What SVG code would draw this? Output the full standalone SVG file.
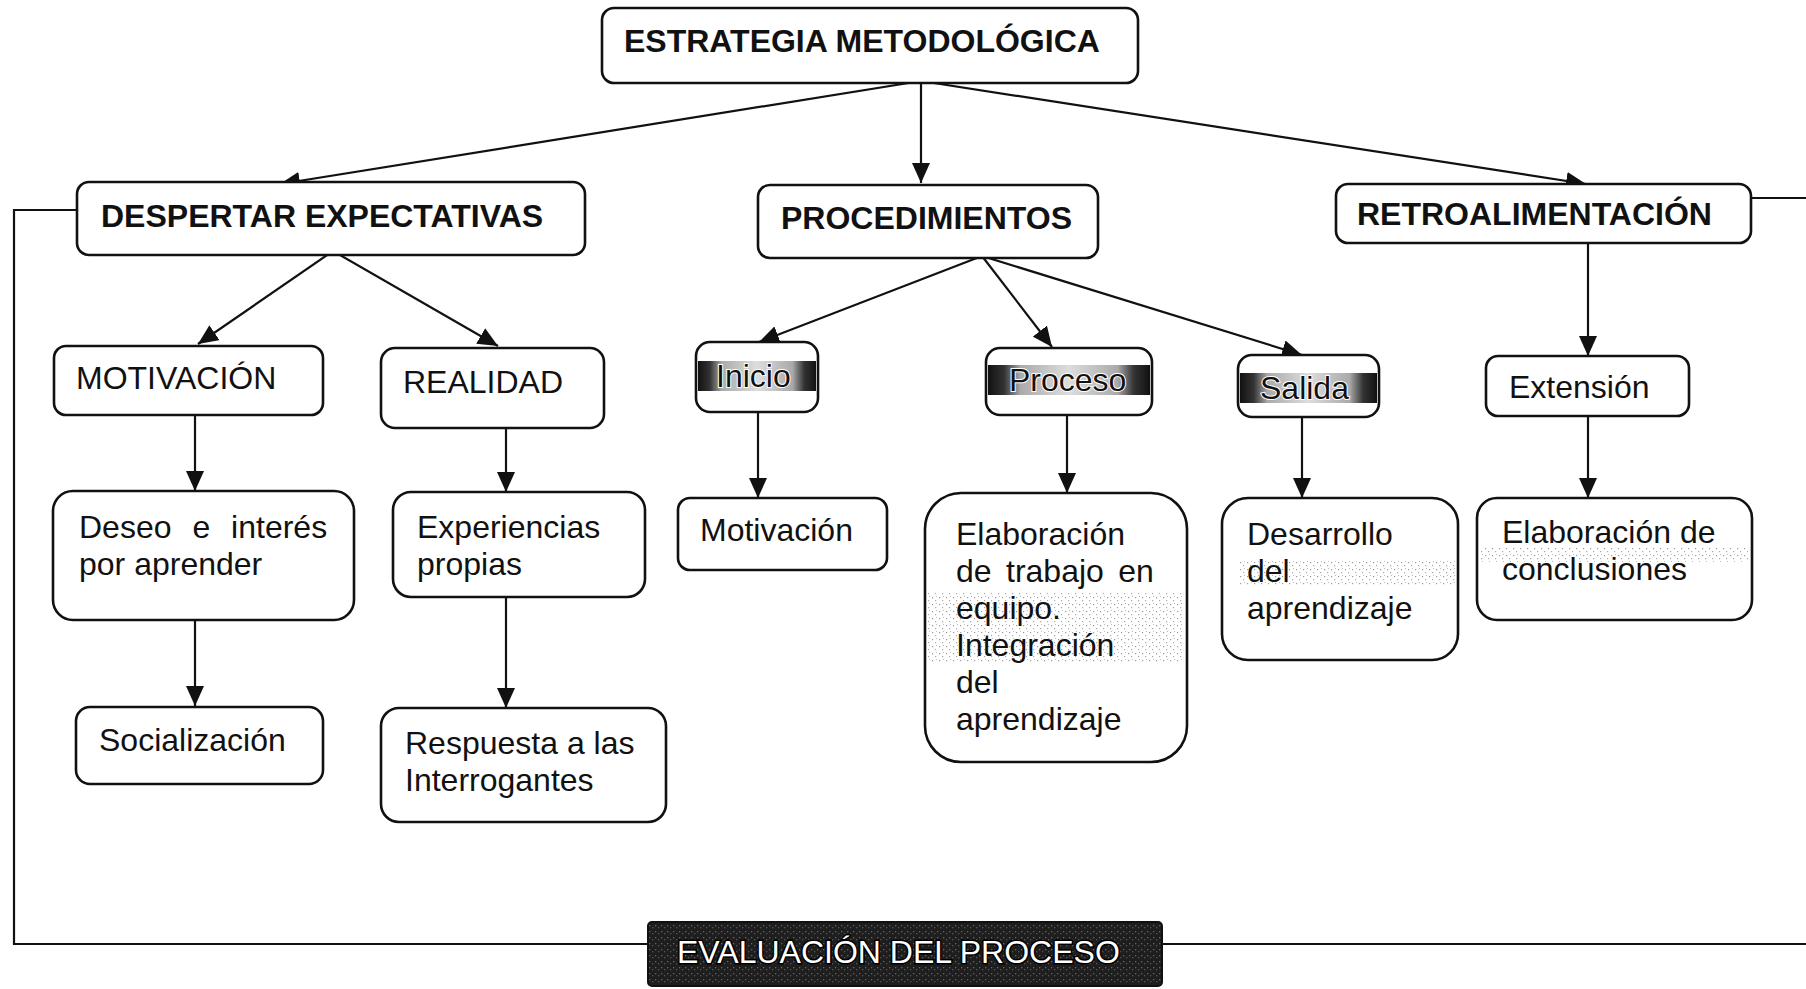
<svg xmlns="http://www.w3.org/2000/svg" width="1806" height="989" viewBox="0 0 1806 989">
<style>
.box{fill:#fff;stroke:#111;stroke-width:2.6}
.hb{font-family:"Liberation Sans",Arial,sans-serif;font-weight:bold;font-size:32px;fill:#111}
.t{font-family:"Liberation Sans",Arial,sans-serif;font-size:32px;fill:#111}
.hl{font-family:"Liberation Sans",Arial,sans-serif;font-size:32px;fill:#111;stroke:#fff;stroke-width:2;paint-order:stroke}
.ev{font-family:"Liberation Sans",Arial,sans-serif;font-size:32px;fill:#fff;stroke:#000;stroke-width:3;paint-order:stroke}
.c{fill:none;stroke:#111;stroke-width:2.2}
.noise{fill:url(#dots)}
</style>
<defs>
<marker id="ah" markerUnits="userSpaceOnUse" markerWidth="22" markerHeight="18" refX="20" refY="9" orient="auto">
<path d="M0,0 L20,9 L0,18 Z" fill="#111"/>
</marker>
<linearGradient id="dark" x1="0" y1="0" x2="1" y2="0">
<stop offset="0" stop-color="#111"/>
<stop offset="0.1" stop-color="#333"/>
<stop offset="0.2" stop-color="#aaa"/>
<stop offset="0.5" stop-color="#ddd"/>
<stop offset="0.8" stop-color="#aaa"/>
<stop offset="0.9" stop-color="#333"/>
<stop offset="1" stop-color="#111"/>
</linearGradient>
<pattern id="dots" width="7" height="7" patternUnits="userSpaceOnUse">
<rect x="1" y="2" width="1.2" height="1.2" fill="#999"/>
<rect x="4" y="5" width="1.2" height="1.2" fill="#aaa"/>
<rect x="5" y="1" width="1" height="1" fill="#bbb"/>
</pattern>
<pattern id="dkdots" width="6" height="6" patternUnits="userSpaceOnUse">
<rect width="6" height="6" fill="#1e1e1e"/>
<rect x="1" y="1" width="1.3" height="1.3" fill="#666"/>
<rect x="4" y="3" width="1.3" height="1.3" fill="#555"/>
</pattern>
</defs>
<rect width="1806" height="989" fill="#fff"/>

<g id="connectors">
<line class="c" x1="921" y1="81" x2="280" y2="184" marker-end="url(#ah)"/>
<line class="c" x1="921" y1="81" x2="921" y2="183" marker-end="url(#ah)"/>
<line class="c" x1="921" y1="81" x2="1586" y2="184" marker-end="url(#ah)"/>
<line class="c" x1="333" y1="251" x2="198" y2="344" marker-end="url(#ah)"/>
<line class="c" x1="333" y1="251" x2="498" y2="346" marker-end="url(#ah)"/>
<line class="c" x1="982" y1="256" x2="759" y2="342" marker-end="url(#ah)"/>
<line class="c" x1="982" y1="256" x2="1052" y2="347" marker-end="url(#ah)"/>
<line class="c" x1="982" y1="256" x2="1302" y2="355" marker-end="url(#ah)"/>
<line class="c" x1="1588" y1="243" x2="1588" y2="356" marker-end="url(#ah)"/>
<line class="c" x1="195" y1="415" x2="195" y2="491" marker-end="url(#ah)"/>
<line class="c" x1="195" y1="620" x2="195" y2="706" marker-end="url(#ah)"/>
<line class="c" x1="506" y1="428" x2="506" y2="492" marker-end="url(#ah)"/>
<line class="c" x1="506" y1="597" x2="506" y2="708" marker-end="url(#ah)"/>
<line class="c" x1="758" y1="412" x2="758" y2="498" marker-end="url(#ah)"/>
<line class="c" x1="1067" y1="415" x2="1067" y2="493" marker-end="url(#ah)"/>
<line class="c" x1="1302" y1="417" x2="1302" y2="498" marker-end="url(#ah)"/>
<line class="c" x1="1588" y1="416" x2="1588" y2="498" marker-end="url(#ah)"/>
<polyline class="c" points="77,210 14,210 14,944 648,944"/>
<line class="c" x1="1751" y1="198" x2="1806" y2="198"/>
<line class="c" x1="1162" y1="944" x2="1806" y2="944"/>
</g>

<g id="estrategia">
<rect class="box" x="602" y="8" width="536" height="75" rx="12"/>
<text class="hb" x="624" y="52">ESTRATEGIA METODOLÓGICA</text>
</g>
<g id="despertar">
<rect class="box" x="77" y="182" width="508" height="73" rx="12"/>
<text class="hb" x="101" y="227">DESPERTAR EXPECTATIVAS</text>
</g>
<g id="procedimientos">
<rect class="box" x="758" y="185" width="340" height="73" rx="12"/>
<text class="hb" x="781" y="229">PROCEDIMIENTOS</text>
</g>
<g id="retroalimentacion">
<rect class="box" x="1336" y="184" width="415" height="59" rx="12"/>
<text class="hb" x="1357" y="225">RETROALIMENTACIÓN</text>
</g>

<g id="motivacion-mayus">
<rect class="box" x="54" y="346" width="269" height="69" rx="12"/>
<text class="t" x="76" y="389">MOTIVACIÓN</text>
</g>
<g id="realidad">
<rect class="box" x="381" y="348" width="223" height="80" rx="14"/>
<text class="t" x="403" y="393">REALIDAD</text>
</g>
<g id="inicio">
<rect class="box" x="696" y="342" width="122" height="70" rx="14"/>
<rect x="698" y="361" width="118" height="30" fill="url(#dark)"/>
<text class="hl" x="716" y="387">Inicio</text>
</g>
<g id="proceso">
<rect class="box" x="986" y="348" width="166" height="67" rx="14"/>
<rect x="988" y="365" width="162" height="30" fill="url(#dark)"/>
<text class="hl" x="1009" y="391">Proceso</text>
</g>
<g id="salida">
<rect class="box" x="1238" y="355" width="141" height="62" rx="14"/>
<rect x="1240" y="373" width="137" height="30" fill="url(#dark)"/>
<text class="hl" x="1260" y="399">Salida</text>
</g>
<g id="extension">
<rect class="box" x="1486" y="356" width="203" height="60" rx="12"/>
<text class="t" x="1509" y="398">Extensión</text>
</g>

<g id="deseo">
<rect class="box" x="53" y="491" width="301" height="129" rx="20"/>
<text class="t" x="79" y="538" word-spacing="12">Deseo e interés</text>
<text class="t" x="79" y="575">por aprender</text>
</g>
<g id="experiencias">
<rect class="box" x="393" y="492" width="252" height="105" rx="18"/>
<text class="t" x="417" y="538">Experiencias</text>
<text class="t" x="417" y="575">propias</text>
</g>
<g id="motivacion">
<rect class="box" x="678" y="498" width="209" height="72" rx="12"/>
<text class="t" x="700" y="541">Motivación</text>
</g>
<g id="elaboracion-trabajo">
<rect class="box" x="925" y="493" width="262" height="269" rx="36"/>
<rect class="noise" x="928" y="592" width="256" height="70"/>
<text class="t" x="956" y="545">Elaboración</text>
<text class="t" x="956" y="582" word-spacing="5.5">de trabajo en</text>
<text class="t" x="956" y="619">equipo.</text>
<text class="t" x="956" y="656">Integración</text>
<text class="t" x="956" y="693">del</text>
<text class="t" x="956" y="730">aprendizaje</text>
</g>
<g id="desarrollo">
<rect class="box" x="1222" y="498" width="236" height="162" rx="26"/>
<rect class="noise" x="1240" y="560" width="215" height="25"/>
<text class="t" x="1247" y="545">Desarrollo</text>
<text class="t" x="1247" y="582">del</text>
<text class="t" x="1247" y="619">aprendizaje</text>
</g>
<g id="conclusiones">
<rect class="box" x="1477" y="498" width="275" height="122" rx="20"/>
<rect class="noise" x="1480" y="548" width="268" height="14"/>
<text class="t" x="1502" y="543">Elaboración de</text>
<text class="t" x="1502" y="580">conclusiones</text>
</g>

<g id="socializacion">
<rect class="box" x="76" y="707" width="247" height="77" rx="14"/>
<text class="t" x="99" y="751">Socialización</text>
</g>
<g id="respuesta">
<rect class="box" x="381" y="708" width="285" height="114" rx="18"/>
<text class="t" x="405" y="754">Respuesta a las</text>
<text class="t" x="405" y="791">Interrogantes</text>
</g>

<g id="evaluacion">
<rect x="648" y="922" width="514" height="64" rx="4" fill="url(#dkdots)" stroke="#111" stroke-width="2"/>
<text class="ev" x="677" y="963">EVALUACIÓN DEL PROCESO</text>
</g>
</svg>
